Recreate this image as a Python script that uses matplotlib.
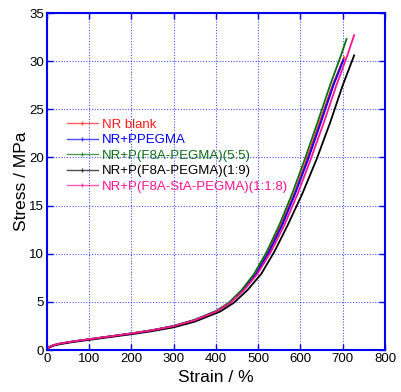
import matplotlib
matplotlib.use("Agg")
import matplotlib.pyplot as plt

plt.rcParams['font.family'] = ['Liberation Sans', 'DejaVu Sans']

# Curvas esfuerzo-deformacion (deformacion %, esfuerzo MPa)
etiquetas = ["NR blank", "NR+PPEGMA", "NR+P(F8A-PEGMA)(5:5)",
             "NR+P(F8A-PEGMA)(1:9)", "NR+P(F8A-StA-PEGMA)(1:1:8)"]
colores = ["#ff1a1a", "#0000ff", "#0a6e14", "#000000", "#ff1493"]

def_red = [0, 5, 15, 30, 60, 100, 150, 200, 250, 300, 350, 400,
           432, 463, 494, 524, 554, 585, 615, 645, 676, 703]
esf_red = [0, 0.3, 0.5, 0.66, 0.88, 1.12, 1.42, 1.72, 2.06, 2.48, 3.1, 4.0,
           4.9, 6.2, 7.9, 10.2, 13.0, 16.2, 19.8, 23.6, 27.5, 30.4]

def_blue = [0, 5, 15, 30, 60, 100, 150, 200, 250, 300, 350, 400,
            433, 464, 495, 526, 557, 587, 618, 648, 678, 702]
esf_blue = [0, 0.3, 0.5, 0.66, 0.88, 1.12, 1.42, 1.72, 2.06, 2.5, 3.12, 4.0,
            4.9, 6.2, 7.9, 10.2, 13.0, 16.2, 19.8, 23.6, 27.5, 30.15]

def_green = [0, 5, 15, 30, 60, 100, 150, 200, 250, 300, 350, 400,
             430, 460, 490, 520, 550, 580, 610, 640, 670, 695, 709]
esf_green = [0, 0.3, 0.5, 0.66, 0.88, 1.12, 1.42, 1.72, 2.07, 2.5, 3.15, 4.05,
             4.9, 6.2, 7.9, 10.2, 13.0, 16.2, 19.8, 23.6, 27.5, 30.5, 32.3]

def_black = [0, 5, 15, 30, 60, 100, 150, 200, 250, 300, 350, 410,
             442, 474, 507, 538, 570, 604, 638, 670, 700, 727]
esf_black = [0, 0.25, 0.45, 0.6, 0.82, 1.05, 1.35, 1.64, 1.97, 2.36, 2.95, 4.0,
             4.9, 6.2, 7.9, 10.2, 13.0, 16.2, 19.8, 23.6, 27.5, 30.6]

def_pink = [0, 5, 15, 30, 60, 100, 150, 200, 250, 300, 350, 400,
            434, 466, 498, 530, 562, 593, 624, 655, 685, 710, 727]
esf_pink = [0, 0.3, 0.5, 0.66, 0.88, 1.12, 1.42, 1.72, 2.06, 2.48, 3.1, 3.98,
            4.9, 6.2, 7.9, 10.2, 13.0, 16.2, 19.8, 23.6, 27.5, 30.5, 32.7]

deformaciones = [def_red, def_blue, def_green, def_black, def_pink]
esfuerzos = [esf_red, esf_blue, esf_green, esf_black, esf_pink]

fig = plt.figure(figsize=(4.01, 3.92), dpi=100)
ax = fig.add_axes([0.1172, 0.1071, 0.8429, 0.8597])

for x, y, c, lab in zip(deformaciones, esfuerzos, colores, etiquetas):
    ax.plot(x, y, color=c, lw=1.3, label=lab)

ax.set_xlim(0, 800)
ax.set_ylim(0, 35)
ax.set_xticks(range(0, 801, 100))
ax.set_yticks(range(0, 36, 5))
ax.grid(True, color='#2222ff', linestyle=(0, (1, 1.5)), lw=0.8, alpha=0.8)
for s in ax.spines.values():
    s.set_color('#0000ee')
    s.set_linewidth(1.5)
ax.tick_params(direction='in', top=True, right=True, length=4, width=1,
               color='#0000ee', labelsize=9.5, pad=2)
ax.set_xlabel("Strain / %", fontsize=12.5, labelpad=4)
ax.set_ylabel("Stress / MPa", fontsize=12.5, labelpad=0)

leg = ax.legend(loc='upper left', bbox_to_anchor=(0.058, 0.686), frameon=False,
                fontsize=9.5, handlelength=2.35, handletextpad=0.33,
                labelspacing=0.24, borderpad=0, borderaxespad=0,
                labelcolor='linecolor')
for h in leg.legend_handles:
    h.set_marker('|')
    h.set_markersize(3)
    h.set_markevery([1])
    h.set_alpha(0.7)
    h.set_linewidth(1)

fig.savefig("out.png", dpi=100)
